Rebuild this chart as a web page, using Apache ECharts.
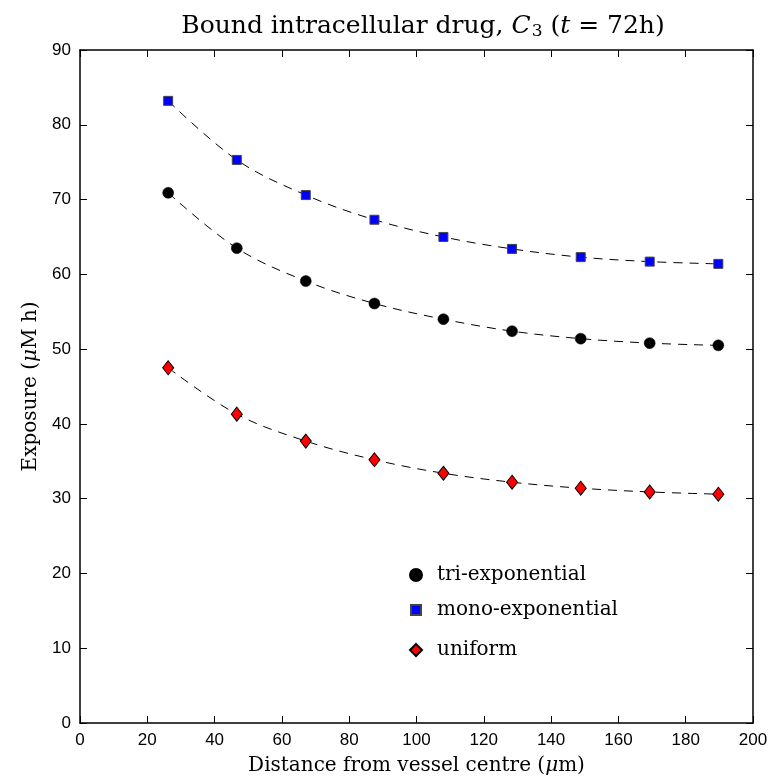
<!DOCTYPE html>
<html>
<head>
<meta charset="utf-8">
<script src="https://cdn.jsdelivr.net/npm/echarts@6/dist/echarts.min.js"></script>
<style>html,body{margin:0;padding:0;background:#fff}#c{width:779px;height:777px}</style>
</head>
<body>
<div id="c"></div>
<script>
const distances = [26.2, 46.6, 67.1, 87.5, 108.0, 128.4, 148.8, 169.3, 189.7];
const triExp = [70.9, 63.5, 59.1, 56.1, 54.0, 52.4, 51.4, 50.8, 50.5];
const monoExp = [83.2, 75.3, 70.6, 67.3, 65.0, 63.4, 62.3, 61.7, 61.4];
const uniform = [47.5, 41.3, 37.7, 35.2, 33.4, 32.2, 31.4, 30.9, 30.6];
const seriesNames = ['tri-exponential', 'mono-exponential', 'uniform'];

const pairs = arr => distances.map((d, i) => [d, arr[i]]);
const serif = 'DejaVu Serif';
const sans = 'Liberation Sans';

const dashed = arr => ({
  type: 'line', data: pairs(arr), smooth: 0.35, showSymbol: false, symbol: 'none',
  lineStyle: { color: '#000', width: 1, type: [9, 7] }, silent: true, z: 2
});

const tick = { show: true, inside: true, length: 7, lineStyle: { color: '#000', width: 1 } };
const line = { show: true, onZero: false, lineStyle: { color: '#000', width: 1.5 } };

const legendItem = (name, top, size, pad) => ({
  orient: 'vertical', left: 410 - size / 2, top: top, itemWidth: size, itemHeight: size,
  textStyle: { fontFamily: serif, fontSize: 20, color: '#000', padding: [0, 0, 0, pad] },
  data: [name]
});

const chart = echarts.init(document.getElementById('c'));
chart.setOption({
  animation: false,
  backgroundColor: '#fff',
  title: {
    text: 'Bound intracellular drug, {i|C}{sub|3} ({i|t} = 72h)',
    left: 418, textAlign: 'center', top: 8,
    textStyle: {
      fontFamily: serif, fontSize: 25, fontWeight: 'normal', color: '#000',
      rich: {
        i: { fontFamily: serif, fontSize: 25, fontStyle: 'italic', color: '#000' },
        sub: { fontFamily: serif, fontSize: 17, color: '#000', padding: [10, 0, 0, 1] }
      }
    }
  },
  legend: [
    legendItem(seriesNames[0], 560, 12, 10),
    legendItem(seriesNames[1], 595, 10, 11),
    legendItem(seriesNames[2], 635, 12, 10)
  ],
  grid: { left: 80, right: 26, top: 50, bottom: 54, containLabel: false, outerBoundsMode: 'none' },
  xAxis: [{
    type: 'value', min: 0, max: 200, interval: 20, position: 'bottom',
    name: 'Distance from vessel centre ({i|μ}m)', nameLocation: 'middle', nameGap: 33,
    nameTextStyle: { fontFamily: serif, fontSize: 20, color: '#000',
      rich: { i: { fontFamily: serif, fontSize: 20, fontStyle: 'italic', color: '#000' } } },
    axisLine: line, axisTick: tick,
    axisLabel: { fontFamily: sans, fontSize: 17, color: '#000', margin: 9 },
    splitLine: { show: false }
  }, {
    type: 'value', min: 0, max: 200, interval: 20, position: 'top',
    axisLine: line, axisTick: tick,
    axisLabel: { show: false }, splitLine: { show: false }
  }],
  yAxis: [{
    type: 'value', min: 0, max: 90, interval: 10, position: 'left',
    name: 'Exposure ({i|μ}M h)', nameLocation: 'middle', nameGap: 38,
    nameTextStyle: { fontFamily: serif, fontSize: 20, color: '#000',
      rich: { i: { fontFamily: serif, fontSize: 20, fontStyle: 'italic', color: '#000' } } },
    axisLine: line, axisTick: tick,
    axisLabel: { fontFamily: sans, fontSize: 17, color: '#000', margin: 9 },
    splitLine: { show: false }
  }, {
    type: 'value', min: 0, max: 90, interval: 10, position: 'right',
    axisLine: line, axisTick: tick,
    axisLabel: { show: false }, splitLine: { show: false }
  }],
  series: [
    dashed(triExp), dashed(monoExp), dashed(uniform),
    { name: seriesNames[0], type: 'scatter', data: pairs(triExp), symbol: 'circle', symbolSize: 11,
      itemStyle: { color: '#000', borderColor: '#000', borderWidth: 0.5, opacity: 1 }, z: 5 },
    { name: seriesNames[1], type: 'scatter', data: pairs(monoExp), symbol: 'rect', symbolSize: 9,
      itemStyle: { color: '#0000ff', borderColor: '#444', borderWidth: 1, opacity: 1 }, z: 5 },
    { name: seriesNames[2], type: 'scatter', data: pairs(uniform), symbol: 'diamond', symbolSize: [11, 14],
      itemStyle: { color: '#ff0000', borderColor: '#000', borderWidth: 1, opacity: 1 }, z: 5 }
  ]
});
</script>
</body>
</html>
